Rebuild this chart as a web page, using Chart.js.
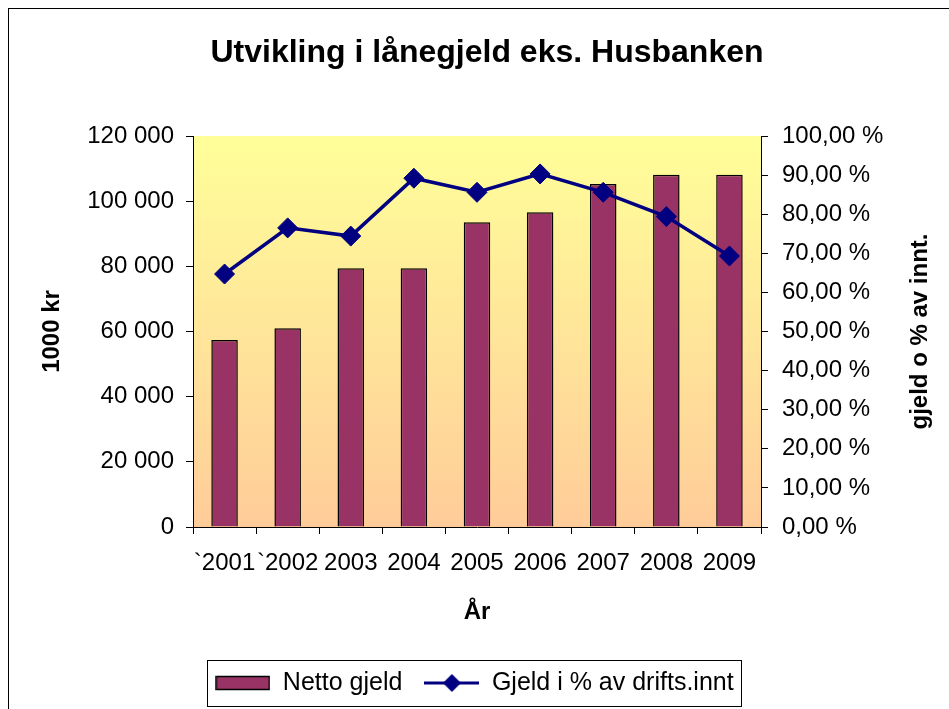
<!DOCTYPE html>
<html><head><meta charset="utf-8">
<script src="https://cdn.jsdelivr.net/npm/chart.js@4"></script>
<style>html,body{margin:0;padding:0;background:#fff;overflow:hidden}#wrap{width:949px;height:709px}</style>
</head><body><div id="wrap"><canvas id="c" width="949" height="709"></canvas></div>
<script>
// ---- data ----
const categories = ['`2001', '`2002', '2003', '2004', '2005', '2006', '2007', '2008', '2009'];
const nettoGjeld = [57400, 61000, 79400, 79400, 93500, 96600, 105300, 108100, 108100];
const gjeldProsent = [64.7, 76.5, 74.4, 89.2, 85.6, 90.3, 85.6, 79.4, 69.3];
const seriesNames = ['Netto gjeld', 'Gjeld i % av drifts.innt'];
const titleText = 'Utvikling i lånegjeld eks. Husbanken';
const leftAxisTitle = '1000 kr';
const rightAxisTitle = 'gjeld o % av innt.';
const xAxisTitle = 'År';
const leftRange = [0, 120000, 20000];
const rightRange = [0, 100, 10];

const FONT = "'Liberation Sans', Arial, sans-serif";
Chart.defaults.font.family = FONT;
Chart.defaults.color = '#000';

const fmtThousands = v => String(v).replace(/\B(?=(\d{3})+(?!\d))/g, ' ');
const fmtPct = v => Number(v).toFixed(2).replace('.', ',') + ' %';

// legend swatches
const barSwatch = document.createElement('canvas');
barSwatch.width = 55; barSwatch.height = 16;
(function(){ const c = barSwatch.getContext('2d');
  c.fillStyle = '#993366'; c.fillRect(1, 1.5, 53, 13);
  c.strokeStyle = '#000'; c.lineWidth = 1.5; c.strokeRect(1, 1.5, 53, 13); })();
const lineSwatch = document.createElement('canvas');
lineSwatch.width = 55; lineSwatch.height = 22;
(function(){ const c = lineSwatch.getContext('2d');
  c.strokeStyle = '#000080'; c.lineWidth = 3; c.beginPath(); c.moveTo(0, 11); c.lineTo(55, 11); c.stroke();
  c.fillStyle = '#000080'; c.beginPath(); c.moveTo(27.5, 2); c.lineTo(36.5, 11); c.lineTo(27.5, 20); c.lineTo(18.5, 11); c.closePath(); c.fill(); })();

const decorPlugin = {
  id: 'decor',
  beforeDraw(chart) {
    const {ctx, chartArea: a} = chart;
    ctx.save();
    ctx.fillStyle = '#fff'; ctx.fillRect(0, 0, chart.width, chart.height);
    const g = ctx.createLinearGradient(0, a.top, 0, a.bottom);
    g.addColorStop(0, '#FFFF99'); g.addColorStop(1, '#FFCC99');
    ctx.fillStyle = g; ctx.fillRect(a.left, a.top, a.right - a.left, a.bottom - a.top);
    ctx.strokeStyle = '#000'; ctx.lineWidth = 1;
    ctx.strokeRect(8.5, 8.5, chart.width + 40, chart.height + 40);
    ctx.restore();
  },
  afterDraw(chart) {
    const {ctx, chartArea: a} = chart;
    ctx.save();
    ctx.fillStyle = '#000';
    ctx.textAlign = 'center'; ctx.textBaseline = 'middle';
    ctx.font = 'bold 32px ' + FONT;
    ctx.fillText(titleText, 487, 53);
    ctx.font = 'bold 24px ' + FONT;
    ctx.translate(920, (a.top + a.bottom) / 2);
    ctx.rotate(-Math.PI / 2);
    ctx.fillText(rightAxisTitle, 0, 0);
    ctx.restore();
    const hb = chart.legend && chart.legend.legendHitBoxes;
    if (hb && hb.length) {
      let l = Infinity, r = -Infinity, cy = 0;
      hb.forEach(h => { l = Math.min(l, h.left); r = Math.max(r, h.left + h.width); cy = h.top + h.height / 2; });
      ctx.save(); ctx.strokeStyle = '#000'; ctx.lineWidth = 1;
      ctx.strokeRect(Math.round(l - 8) + 0.5, Math.round(cy - 23) + 0.5, Math.round(r - l + 16), 46);
      ctx.restore();
    }
  }
};

new Chart(document.getElementById('c'), {
  type: 'bar',
  data: {
    labels: categories,
    datasets: [
      { type: 'bar', label: seriesNames[0], data: nettoGjeld, yAxisID: 'y',
        backgroundColor: '#993366', borderColor: '#000', borderWidth: 1.5,
        barPercentage: 0.42, categoryPercentage: 1, order: 1 },
      { type: 'line', label: seriesNames[1], data: gjeldProsent, yAxisID: 'y1',
        borderColor: '#000080', borderWidth: 3.5, tension: 0,
        pointStyle: 'rectRot', pointRadius: 10, pointBackgroundColor: '#000080',
        pointBorderColor: '#000080', pointBorderWidth: 1, order: 0 }
    ]
  },
  options: {
    responsive: false, animation: false,
    layout: { padding: { top: 136, left: 0, right: 0, bottom: 3.5 } },
    plugins: {
      title: { display: false },
      tooltip: { enabled: false },
      legend: {
        position: 'bottom',
        labels: {
          usePointStyle: true, pointStyleWidth: 55, boxHeight: 25,
          padding: 22, font: { size: 25 }, color: '#000',
          sort: (x, y) => x.datasetIndex - y.datasetIndex,
          generateLabels(chart) {
            const items = Chart.defaults.plugins.legend.labels.generateLabels(chart);
            items.forEach(it => { it.pointStyle = it.datasetIndex === 0 ? barSwatch : lineSwatch; });
            return items;
          }
        }
      }
    },
    scales: {
      x: {
        grid: { display: true, drawOnChartArea: false, tickLength: 7, color: '#000', offset: true },
        border: { color: '#000', width: 1 },
        ticks: { font: { size: 24 }, padding: 15, autoSkip: false, maxRotation: 0, minRotation: 0 },
        title: { display: true, text: xAxisTitle, font: { size: 24, weight: 'bold' }, padding: { top: 0, bottom: 22 } },
        afterFit(s) { s.height = 121.5; }
      },
      y: {
        position: 'left', min: leftRange[0], max: leftRange[1],
        ticks: { stepSize: leftRange[2], font: { size: 24 }, padding: 12, callback: fmtThousands },
        grid: { display: true, drawOnChartArea: false, tickLength: 7, color: '#000' },
        border: { color: '#000', width: 1 },
        title: { display: true, text: leftAxisTitle, font: { size: 24, weight: 'bold' }, padding: { top: 38, bottom: 0 } },
        afterFit(s) { s.width = 193; }
      },
      y1: {
        position: 'right', min: rightRange[0], max: rightRange[1],
        ticks: { stepSize: rightRange[2], font: { size: 24 }, padding: 14, callback: fmtPct },
        grid: { display: true, drawOnChartArea: false, tickLength: 7, color: '#000' },
        border: { color: '#000', width: 1 },
        afterFit(s) { s.width = 188; }
      }
    }
  },
  plugins: [decorPlugin]
});
</script></body></html>
